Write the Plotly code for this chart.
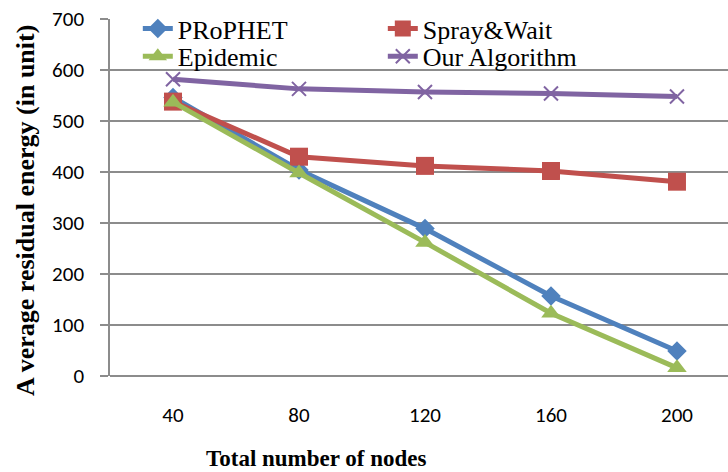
import plotly.graph_objects as go

nodes = ["40", "80", "120", "160", "200"]
prophet = [546, 404, 289, 157, 49]
spray_wait = [538, 430, 412, 402, 381]
epidemic = [537, 398, 262, 123, 16]
our_algorithm = [582, 563, 557, 554, 548]

y_ticks = [0, 100, 200, 300, 400, 500, 600, 700]

BLUE = "#4F81BD"
RED = "#C0504D"
GREEN = "#9BBB59"
PURPLE = "#8064A2"
GRID = "#8C8C8C"
SERIF = "Liberation Serif, Times New Roman, serif"
SANS = "Carlito, Lato, sans-serif"

fig = go.Figure()
fig.add_trace(go.Scatter(x=nodes, y=prophet, name="PRoPHET", mode="lines+markers",
                         line=dict(color=BLUE, width=5), legend="legend",
                         marker=dict(symbol="diamond", size=15, color=BLUE)))
fig.add_trace(go.Scatter(x=nodes, y=spray_wait, name="Spray&Wait", mode="lines+markers",
                         line=dict(color=RED, width=5), legend="legend",
                         marker=dict(symbol="square", size=18, color=RED)))
fig.add_trace(go.Scatter(x=nodes, y=epidemic, name="Epidemic", mode="lines+markers",
                         line=dict(color=GREEN, width=5), legend="legend2",
                         marker=dict(symbol="triangle-up", size=17, color=GREEN)))
fig.add_trace(go.Scatter(x=nodes, y=our_algorithm, name="Our Algorithm", mode="lines+markers",
                         line=dict(color=PURPLE, width=5), legend="legend2",
                         marker=dict(symbol="x-thin", size=14, color=PURPLE,
                                     line=dict(color=PURPLE, width=2))))

legend_common = dict(orientation="h", xanchor="left", yanchor="top",
                     font=dict(family=SERIF, size=26, color="black"),
                     entrywidth=200, entrywidthmode="pixels",
                     bgcolor="rgba(0,0,0,0)")

fig.update_layout(
    width=728, height=472,
    margin=dict(l=110, r=0, t=19, b=96),
    plot_bgcolor="white", paper_bgcolor="white",
    showlegend=True,
    legend=dict(x=0.045, y=1.039, **legend_common),
    legend2=dict(x=0.045, y=0.961, **legend_common),
    xaxis=dict(type="category", range=[-0.5, 4.405], showgrid=False,
               showline=False, ticks="", zeroline=False,
               tickfont=dict(family=SANS, size=21, color="black"),
               ticklabelstandoff=24),
    yaxis=dict(range=[0, 700], tickvals=y_ticks, showgrid=True, gridcolor=GRID, gridwidth=1.5,
               showline=True, linecolor=GRID, linewidth=1.5, ticks="outside", ticklen=8,
               tickcolor=GRID, tickwidth=1.5, zeroline=True, zerolinecolor=GRID, zerolinewidth=1.5,
               tickfont=dict(family=SANS, size=21, color="black"),
               ticklabelstandoff=12),
    annotations=[
        dict(text="<b>A verage residual energy (in unit)</b>", xref="paper", yref="paper",
             x=-0.1375, y=0.462, textangle=-90, showarrow=False, xanchor="center", yanchor="middle",
             font=dict(family=SERIF, size=26, color="black")),
        dict(text="<b>Total number of nodes</b>", xref="paper", yref="paper",
             x=0.334, y=-0.2297, showarrow=False, xanchor="center", yanchor="middle",
             font=dict(family=SERIF, size=23, color="black")),
    ],
)

fig.write_html("out.html")
